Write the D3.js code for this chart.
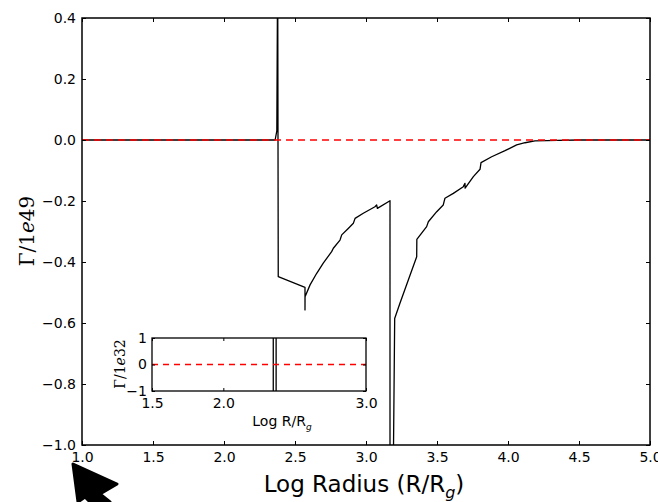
<!DOCTYPE html>
<html><head><meta charset="utf-8">
<script src="https://cdn.jsdelivr.net/npm/d3@7"></script>
<style>body{margin:0;background:#fff}svg{display:block}</style>
</head><body>
<svg id="c" width="658" height="502"></svg>
<script>
// ---- data ----
const logR = [1.0, 2.36, 2.372, 2.378, 2.382, 2.5704, 2.5704, 2.5708,
  2.606, 2.653, 2.699, 2.758, 2.770, 2.817, 2.829, 2.875, 2.911, 2.923, 2.981, 3.063, 3.075, 3.080, 3.169, 3.169,
  3.190, 3.202, 3.239, 3.298, 3.357, 3.358, 3.427, 3.439, 3.498, 3.544, 3.556, 3.615, 3.685, 3.697, 3.698, 3.756,
  3.803, 3.810, 3.885, 3.979, 4.061, 4.120, 4.190, 4.35, 4.5, 5.0];
const gamma = [0.0, 0.0, 0.03, 0.6, -0.448, -0.483, -0.557, -0.514,
  -0.475, -0.437, -0.404, -0.366, -0.355, -0.328, -0.311, -0.290, -0.273, -0.257, -0.240, -0.219, -0.213, -0.224, -0.199, -1.2,
  -1.2, -0.585, -0.535, -0.459, -0.383, -0.326, -0.284, -0.268, -0.235, -0.213, -0.191, -0.175, -0.153, -0.142, -0.158, -0.120,
  -0.096, -0.074, -0.055, -0.035, -0.016, -0.009, -0.003, -0.001, 0.0, 0.0];
const insetLogR = [2.35, 2.35, 2.37, 2.37];
const insetGamma = [-5, 5, 5, -5];
const xTicks = [1.0, 1.5, 2.0, 2.5, 3.0, 3.5, 4.0, 4.5, 5.0];
const yTicks = [0.4, 0.2, 0.0, -0.2, -0.4, -0.6, -0.8, -1.0];
const insetXTicks = [1.5, 2.0, 3.0];
const insetYTicks = [1, 0, -1];

const svg = d3.select("#c");
const fmt1 = d => d3.format(".1f")(d).replace("-", "\u2212");

// ---- main axes ----
const M = {l: 82, r: 650, t: 18, b: 445};
const x = d3.scaleLinear().domain([1, 5]).range([M.l, M.r]);
const y = d3.scaleLinear().domain([-1, 0.4]).range([M.b, M.t]);

svg.append("clipPath").attr("id", "mclip").append("rect")
  .attr("x", M.l).attr("y", M.t).attr("width", M.r - M.l).attr("height", M.b - M.t);

const line = d3.line().x(d => x(d[0])).y(d => y(d[1]));
const pts = logR.map((v, i) => [v, gamma[i]]);
svg.append("path").attr("clip-path", "url(#mclip)").attr("d", line(pts))
  .attr("fill", "none").attr("stroke", "#000").attr("stroke-width", 1.3).attr("stroke-linejoin", "round");
svg.append("line").attr("x1", x(1)).attr("x2", x(5)).attr("y1", y(0)).attr("y2", y(0))
  .attr("stroke", "#ff0000").attr("stroke-width", 1.3).attr("stroke-dasharray", "7,5");

const tickStyle = g => { g.select(".domain").remove(); g.selectAll("line").attr("stroke", "#000"); g.selectAll("text").attr("font-family", "DejaVu Sans").attr("font-size", 14).attr("fill", "#000"); };
svg.append("g").attr("transform", `translate(0,${M.b})`)
  .call(d3.axisBottom(x).tickValues(xTicks).tickFormat(fmt1).tickSizeInner(-4).tickSizeOuter(0).tickPadding(7))
  .call(tickStyle);
svg.append("g").attr("transform", `translate(0,${M.t})`)
  .call(d3.axisTop(x).tickValues(xTicks).tickFormat("").tickSizeInner(-4).tickSizeOuter(0)).call(tickStyle);
svg.append("g").attr("transform", `translate(${M.l},0)`)
  .call(d3.axisLeft(y).tickValues(yTicks).tickFormat(fmt1).tickSizeInner(-4).tickSizeOuter(0).tickPadding(6))
  .call(tickStyle);
svg.append("g").attr("transform", `translate(${M.r},0)`)
  .call(d3.axisRight(y).tickValues(yTicks).tickFormat("").tickSizeInner(-4).tickSizeOuter(0)).call(tickStyle);
svg.append("rect").attr("x", M.l).attr("y", M.t).attr("width", M.r - M.l).attr("height", M.b - M.t)
  .attr("fill", "none").attr("stroke", "#000").attr("stroke-width", 1.5);

// labels
const xl = svg.append("text").attr("x", 364).attr("y", 492).attr("text-anchor", "middle")
  .attr("font-family", "DejaVu Sans").attr("font-size", 23).attr("fill", "#000");
xl.append("tspan").text("Log Radius (R/R");
xl.append("tspan").attr("font-size", 16).attr("font-style", "italic").attr("dy", 6).text("g");
xl.append("tspan").attr("dy", -6).text(")");
const yl = svg.append("text").attr("transform", "translate(34,231) rotate(-90)").attr("text-anchor", "middle")
  .attr("font-family", "DejaVu Serif").attr("font-size", 20).attr("fill", "#000");
yl.append("tspan").text("\u0393/1");
yl.append("tspan").attr("font-style", "italic").text("e");
yl.append("tspan").text("49");

// ---- inset ----
const I = {l: 152, r: 366, t: 338, b: 391};
const xi = d3.scaleLinear().domain([1.5, 3.0]).range([I.l, I.r]);
const yi = d3.scaleLinear().domain([-1, 1]).range([I.b, I.t]);
svg.append("rect").attr("x", I.l).attr("y", I.t).attr("width", I.r - I.l).attr("height", I.b - I.t).attr("fill", "#fff");
svg.append("clipPath").attr("id", "iclip").append("rect")
  .attr("x", I.l).attr("y", I.t).attr("width", I.r - I.l).attr("height", I.b - I.t);
const ipts = insetLogR.map((v, i) => [v, insetGamma[i]]);
svg.append("path").attr("clip-path", "url(#iclip)")
  .attr("d", d3.line().x(d => xi(d[0])).y(d => yi(d[1]))(ipts))
  .attr("fill", "none").attr("stroke", "#000").attr("stroke-width", 1.3);
svg.append("line").attr("x1", I.l).attr("x2", I.r).attr("y1", yi(0)).attr("y2", yi(0))
  .attr("stroke", "#ff0000").attr("stroke-width", 1.3).attr("stroke-dasharray", "6,5");
const iStyle = g => { g.select(".domain").remove(); g.selectAll("line").attr("stroke", "#000"); g.selectAll("text").attr("font-family", "DejaVu Sans").attr("font-size", 14).attr("fill", "#000"); };
svg.append("g").attr("transform", `translate(0,${I.b})`)
  .call(d3.axisBottom(xi).tickValues(insetXTicks).tickFormat(d3.format(".1f")).tickSizeInner(-3).tickSizeOuter(0).tickPadding(7)).call(iStyle);
svg.append("g").attr("transform", `translate(0,${I.t})`)
  .call(d3.axisTop(xi).tickValues(insetXTicks).tickFormat("").tickSizeInner(-3).tickSizeOuter(0)).call(iStyle);
svg.append("g").attr("transform", `translate(${I.l},0)`)
  .call(d3.axisLeft(yi).tickValues(insetYTicks).tickFormat(d => String(d).replace("-", "\u2212")).tickSizeInner(-3).tickSizeOuter(0).tickPadding(5)).call(iStyle);
svg.append("g").attr("transform", `translate(${I.r},0)`)
  .call(d3.axisRight(yi).tickValues(insetYTicks).tickFormat("").tickSizeInner(-3).tickSizeOuter(0)).call(iStyle);
svg.append("rect").attr("x", I.l).attr("y", I.t).attr("width", I.r - I.l).attr("height", I.b - I.t)
  .attr("fill", "none").attr("stroke", "#000").attr("stroke-width", 1.3);
const ixl = svg.append("text").attr("x", 282).attr("y", 426).attr("text-anchor", "middle")
  .attr("font-family", "DejaVu Sans").attr("font-size", 14).attr("fill", "#000");
ixl.append("tspan").text("Log R/R");
ixl.append("tspan").attr("font-size", 9).attr("font-style", "italic").attr("dy", 4).text("g");
const iyl = svg.append("text").attr("transform", "translate(125,364) rotate(-90)").attr("text-anchor", "middle")
  .attr("font-family", "DejaVu Serif").attr("font-size", 14).attr("fill", "#000");
iyl.append("tspan").text("\u0393/1");
iyl.append("tspan").attr("font-style", "italic").text("e");
iyl.append("tspan").text("32");

// ---- pointer arrow ----
svg.append("path")
  .attr("d", "M73,464 L117,484 L100,494 L110,502 L90,502 L85,497 L78,502 Z")
  .attr("fill", "#000").attr("stroke", "#000").attr("stroke-width", 3).attr("stroke-linejoin", "round");
</script>
</body></html>
